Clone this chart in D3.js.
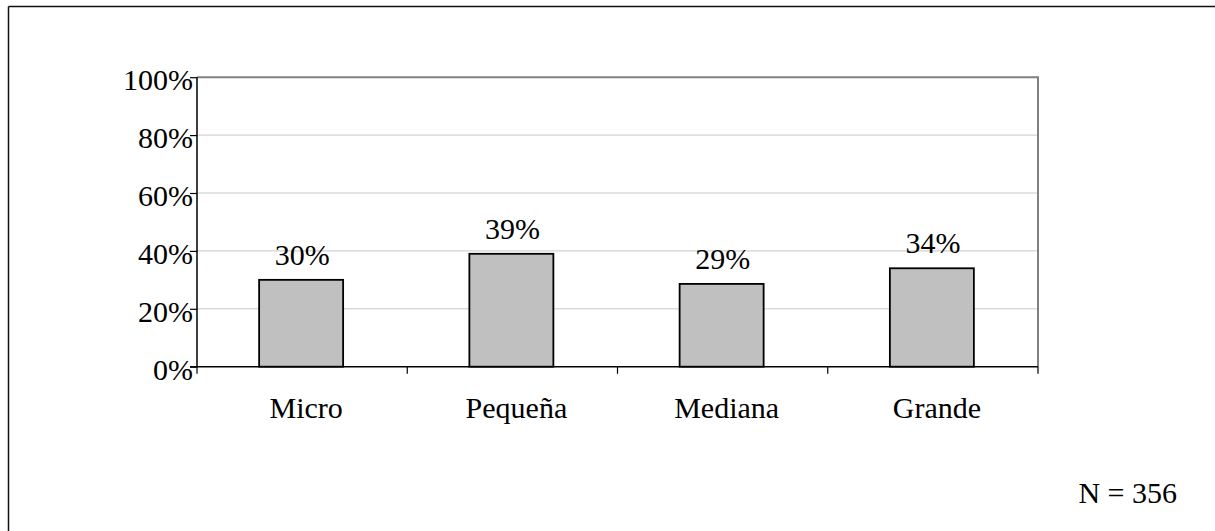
<!DOCTYPE html>
<html>
<head>
<meta charset="utf-8">
<script src="https://cdn.jsdelivr.net/npm/d3@7"></script>
<style>
  html, body { margin: 0; padding: 0; background: #fff; }
  svg { display: block; }
  text { font-family: "Liberation Serif", "Times New Roman", serif; fill: #000; }
</style>
</head>
<body>
<svg id="chart" width="1215" height="531"></svg>
<script>
const categories = ["Micro", "Pequeña", "Mediana", "Grande"];
const values = [0.30, 0.39, 0.286, 0.34];
const yTicks = [0, 0.2, 0.4, 0.6, 0.8, 1.0];
const noteText = "N = 356";

const svg = d3.select("#chart");
const W = 1215, H = 531;
const plot = { left: 197, right: 1038, top: 77.2, bottom: 366.7 };
const fontSize = 30;

// outer frame (top and left visible)
svg.append("line").attr("x1", 8.5).attr("x2", W).attr("y1", 6.5).attr("y2", 6.5)
  .attr("stroke", "#111").attr("stroke-width", 1.5);
svg.append("line").attr("x1", 8.5).attr("x2", 8.5).attr("y1", 6.5).attr("y2", H)
  .attr("stroke", "#111").attr("stroke-width", 1.5);

const xb = d3.scaleBand().domain(categories).range([plot.left, plot.right]);
const y = d3.scaleLinear().domain([0, 1]).range([plot.bottom, plot.top]);

// gridlines
svg.append("g").selectAll("line").data(yTicks.filter(t => t > 0 && t < 1)).join("line")
  .attr("x1", plot.left).attr("x2", plot.right)
  .attr("y1", d => y(d)).attr("y2", d => y(d))
  .attr("stroke", "#c8c8c8").attr("stroke-width", 1);

// plot border top & right
svg.append("line").attr("x1", plot.left).attr("x2", plot.right + 1)
  .attr("y1", y(1)).attr("y2", y(1)).attr("stroke", "#808080").attr("stroke-width", 2);
svg.append("line").attr("x1", plot.right).attr("x2", plot.right)
  .attr("y1", y(1)).attr("y2", plot.bottom).attr("stroke", "#808080").attr("stroke-width", 2);

// bars
const bw = 84;
svg.append("g").selectAll("rect").data(values).join("rect")
  .attr("x", (d, i) => xb(categories[i]) + xb.bandwidth() / 2 - bw / 2 - 1)
  .attr("y", d => y(d))
  .attr("width", bw)
  .attr("height", d => y(0) - y(d))
  .attr("fill", "#c0c0c0").attr("stroke", "#000").attr("stroke-width", 1.8);

// data labels
svg.append("g").selectAll("text").data(values).join("text")
  .attr("x", (d, i) => xb(categories[i]) + xb.bandwidth() / 2)
  .attr("y", d => y(d) - 15)
  .attr("text-anchor", "middle")
  .attr("font-size", fontSize)
  .text(d => d3.format(".0%")(d));

// y axis
const yAxis = d3.axisLeft(y).tickValues(yTicks).tickFormat(d3.format(".0%")).tickSize(7).tickPadding(0);
const gy = svg.append("g").attr("transform", `translate(${plot.left},0)`).call(yAxis);
gy.select(".domain").attr("stroke", "#000").attr("stroke-width", 1.5).attr("d", `M-7,${plot.bottom}H0V${plot.top}`);
gy.selectAll(".tick line").attr("stroke", "#000").attr("stroke-width", 1.2);
gy.selectAll(".tick text").attr("font-size", fontSize).attr("font-family", "Liberation Serif")
  .attr("x", -4).attr("dy", "0.42em").attr("fill", "#000");

// x axis
const xAxis = d3.axisBottom(xb).tickSize(0).tickPadding(0);
const gx = svg.append("g").attr("transform", `translate(0,${plot.bottom})`).call(xAxis);
gx.select(".domain").attr("stroke", "#000").attr("stroke-width", 1.5).attr("d", `M${plot.left},0H${plot.right}`);
gx.selectAll(".tick text").attr("font-size", fontSize).attr("font-family", "Liberation Serif")
  .attr("x", 4).attr("y", 51).attr("dy", 0).attr("fill", "#000");
// category separator ticks
const sep = categories.map(c => xb(c)).concat([plot.right]);
gx.append("g").selectAll("line").data(sep).join("line")
  .attr("x1", d => d).attr("x2", d => d).attr("y1", 0).attr("y2", 7)
  .attr("stroke", "#000").attr("stroke-width", 1.2);

// note
svg.append("text").attr("x", 1177).attr("y", 502.5).attr("text-anchor", "end")
  .attr("font-size", fontSize).text(noteText);
</script>
</body>
</html>
